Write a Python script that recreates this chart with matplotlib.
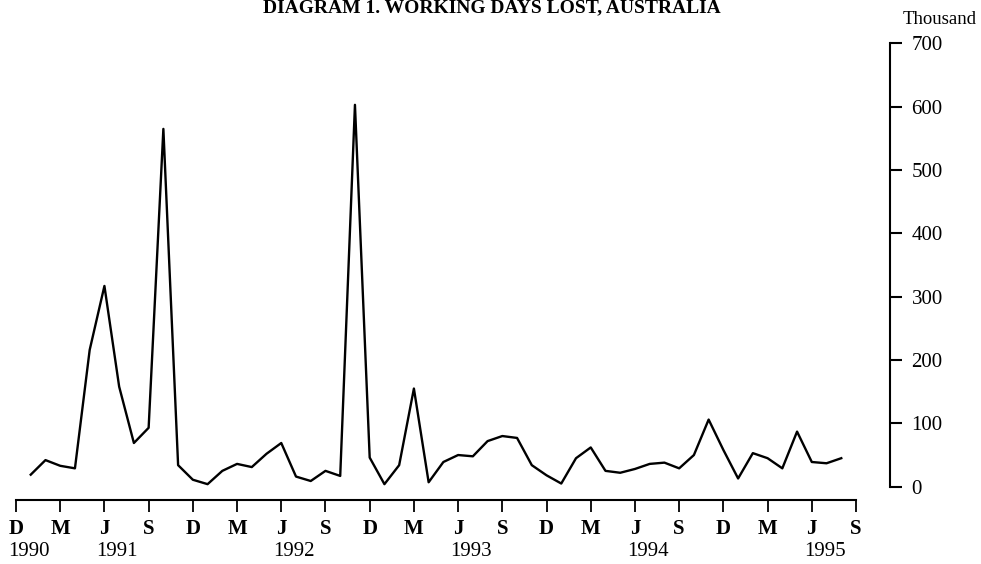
import numpy as np
import matplotlib.pyplot as plt

# =========================
# DATA (thousand working days lost, monthly Jan 1991 - Aug 1995)
# =========================
days_lost = [
    19, 42, 33, 29, 216, 317, 158, 69, 93, 565, 34, 11,      # 1991
    4, 25, 36, 31, 52, 69, 16, 9, 25, 17, 603, 46,           # 1992
    4, 34, 155, 7, 39, 50, 48, 72, 80, 77, 34, 18,           # 1993
    5, 45, 62, 25, 22, 28, 36, 38, 29, 50, 106, 58,          # 1994
    13, 53, 45, 29, 87, 39, 37, 45,                          # 1995
]
# month index counted from Dec 1990 = 0
months = np.arange(1, len(days_lost) + 1)

tick_letters = ["D", "M", "J", "S"] * 5
tick_pos = np.arange(0, 58, 3)[:len(tick_letters)]
years = ["1990", "1991", "1992", "1993", "1994", "1995"]
year_pos = [0, 6, 18, 30, 42, 54]

y_ticks = [0, 100, 200, 300, 400, 500, 600, 700]

# =========================
# PLOT
# =========================
plt.rcParams['font.family'] = 'Liberation Serif'
W, H = 981, 564
fig = plt.figure(figsize=(W / 100, H / 100), dpi=100)

# axes in pixel geometry of the original scan
left, right = 16, 890
bottom, top = 500, 43.4
ax = fig.add_axes([left / W, (H - bottom) / H, (right - left) / W, (bottom - top) / H])

ax.plot(months, days_lost, color='black', lw=1.7)

ax.set_xlim(0, (right - left) / 14.737)
ax.set_ylim(-21, 700)

for s in ['top', 'left']:
    ax.spines[s].set_visible(False)
ax.spines['bottom'].set_bounds(0, 57)
ax.spines['right'].set_bounds(0, 700)
ax.spines['bottom'].set_linewidth(1.5)
ax.spines['right'].set_linewidth(1.5)

ax.set_xticks(tick_pos)
ax.set_xticklabels(tick_letters, fontsize=15, fontweight='bold')
ax.tick_params(axis='x', direction='out', length=8.5, width=1.3, pad=5)

ax.yaxis.tick_right()
ax.set_yticks(y_ticks)
ax.set_yticklabels([str(v) for v in y_ticks], fontsize=15)
ax.tick_params(axis='y', direction='out', length=8.5, width=1.5, pad=7)

for yr, p in zip(years, year_pos):
    ax.text(p - 0.55, -0.092, yr, transform=ax.get_xaxis_transform(),
            ha='left', va='top', fontsize=15)

fig.text(903 / W, (H - 20) / H, "Thousand", ha='left', va='center', fontsize=13.5)
fig.text(492 / W, (H - 12) / H, "DIAGRAM 1. WORKING DAYS LOST, AUSTRALIA",
         ha='center', va='baseline', fontsize=14, fontweight='bold')

plt.savefig("out.png", dpi=100)
